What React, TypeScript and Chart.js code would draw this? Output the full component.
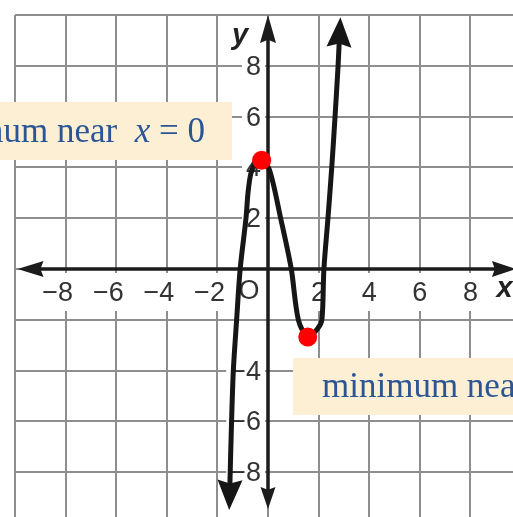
import React, { useEffect, useRef } from "react";
import { Chart, registerables } from "chart.js";

Chart.register(...registerables);

// Cubic-shaped curve, sampled along its path (x increasing)
const curveX = [-1.51, -1.44, -1.37, -1.24, -1.1, -0.87, -0.79, -0.68, -0.5, -0.25, 0.06, 0.5, 0.92, 1.2, 1.57, 1.96, 2.13, 2.21, 2.37, 2.52, 2.65, 2.77, 2.82];
const curveY = [-8.62, -6, -4, -2, 0, 2, 3, 3.75, 4.15, 4.28, 3.9, 2, 0, -2, -2.68, -2.35, -2, 0, 2, 4, 6, 8, 9.05];

// Turning points
const extremaX = [-0.25, 1.57];
const extremaY = [4.28, -2.68];

// Axis numbering
const xTickValues = [-8, -6, -4, -2, 2, 4, 6, 8];
const yTickValues = [8, 6, 4, 2, -4, -6, -8];

// Extent of the drawn axes (arrow tips)
const axisXRange = [-9.9, 9.8];
const axisYRange = [-9.45, 10];

// Callout texts: [words, variable, equation]
const maxNote = ["maximum near", "x", "= 0"];
const minNote = ["minimum near", "x", "= 2"];

const fmt = (v: number) => (v < 0 ? "\u2212" + Math.abs(v) : String(v));

function arrowHead(ctx: CanvasRenderingContext2D, tx: number, ty: number, dx: number, dy: number, len: number, half: number, color: string) {
  const bx = tx - dx * len;
  const by = ty - dy * len;
  const nx = -dy;
  const ny = dx;
  ctx.beginPath();
  ctx.moveTo(tx, ty);
  ctx.lineTo(bx + nx * half, by + ny * half);
  ctx.lineTo(bx + dx * len * 0.12, by + dy * len * 0.12);
  ctx.lineTo(bx - nx * half, by - ny * half);
  ctx.closePath();
  ctx.fillStyle = color;
  ctx.fill();
}

const tickFont = '27px "Liberation Sans", Arial, sans-serif';
const noteFont = '35px "Liberation Serif", "Times New Roman", serif';
const noteFontItalic = 'italic 35px "Liberation Serif", "Times New Roman", serif';
const noteBg = "#fcefd4";
const noteColor = "#2c5595";
const axisColor = "#1c1c1c";
const labelColor = "#333333";

const decorPlugin = {
  id: "graphDecor",
  beforeDatasetsDraw(chart: any) {
    const ctx: CanvasRenderingContext2D = chart.ctx;
    const xs = chart.scales.x;
    const ys = chart.scales.y;
    const x0 = xs.getPixelForValue(0);
    const y0 = ys.getPixelForValue(0);
    ctx.save();
    ctx.font = tickFont;
    ctx.textBaseline = "middle";

    // x-axis numbers (digit centred on its grid line)
    for (const v of xTickValues) {
      const px = xs.getPixelForValue(v);
      const dw = ctx.measureText(String(Math.abs(v))).width;
      const label = fmt(v);
      const w = ctx.measureText(label).width;
      const right = px + dw / 2;
      ctx.fillStyle = "#ffffff";
      ctx.fillRect(right - w - 3, y0 + 4, w + 6, 38);
      ctx.fillStyle = labelColor;
      ctx.textAlign = "right";
      ctx.fillText(label, right, y0 + 25);
    }

    // y-axis numbers, left of the axis
    for (const v of yTickValues) {
      const py = ys.getPixelForValue(v);
      const label = fmt(v);
      const w = ctx.measureText(label).width;
      const right = x0 - 7;
      ctx.fillStyle = "#ffffff";
      ctx.fillRect(right - w - 4, py - 12, w + 8, 25);
      ctx.fillStyle = labelColor;
      ctx.textAlign = "right";
      ctx.fillText(label, right, py + 1.5);
    }

    // origin
    ctx.fillStyle = "#ffffff";
    ctx.fillRect(x0 - 30, y0 + 4, 26, 38);
    ctx.fillStyle = labelColor;
    ctx.textAlign = "center";
    ctx.fillText("O", x0 - 19, y0 + 23);

    // axis letters
    ctx.font = 'italic bold 29px "Liberation Sans", Arial, sans-serif';
    ctx.textBaseline = "alphabetic";
    ctx.fillStyle = "#222222";
    ctx.fillText("x", xs.getPixelForValue(9.35), y0 + 28);
    ctx.fillText("y", x0 - 28, ys.getPixelForValue(8.85));

    // axes with arrowheads
    const xl = xs.getPixelForValue(axisXRange[0]);
    const xr = xs.getPixelForValue(axisXRange[1]);
    const yt = ys.getPixelForValue(axisYRange[1]);
    const yb = ys.getPixelForValue(axisYRange[0]);
    ctx.strokeStyle = axisColor;
    ctx.lineWidth = 3.5;
    ctx.beginPath();
    ctx.moveTo(xl + 12, y0);
    ctx.lineTo(xr - 12, y0);
    ctx.moveTo(x0, yt + 12);
    ctx.lineTo(x0, yb - 12);
    ctx.stroke();
    arrowHead(ctx, xl, y0, -1, 0, 26, 8, axisColor);
    arrowHead(ctx, xr, y0, 1, 0, 24, 8, axisColor);
    arrowHead(ctx, x0, yt, 0, -1, 28, 8, axisColor);
    arrowHead(ctx, x0, yb, 0, 1, 22, 7.5, axisColor);
    ctx.restore();
  },
  afterDatasetsDraw(chart: any) {
    const ctx: CanvasRenderingContext2D = chart.ctx;
    const meta = chart.getDatasetMeta(1);
    const pts = meta.data;
    if (!pts || pts.length < 2) return;
    ctx.save();
    const ends = [
      [pts[0], pts[1]],
      [pts[pts.length - 1], pts[pts.length - 2]],
    ];
    for (const [e, p] of ends) {
      let dx = e.x - p.x;
      let dy = e.y - p.y;
      const d = Math.hypot(dx, dy) || 1;
      dx /= d;
      dy /= d;
      const tipX = e.x + dx * 22;
      const tipY = e.y + dy * 22;
      arrowHead(ctx, tipX, tipY, dx, dy, 30, 12.5, "#161616");
    }
    ctx.restore();
  },
  afterDraw(chart: any) {
    const ctx: CanvasRenderingContext2D = chart.ctx;
    ctx.save();
    ctx.textBaseline = "alphabetic";
    ctx.textAlign = "left";

    // callout for the maximum (right-aligned, runs off the left edge)
    ctx.fillStyle = noteBg;
    ctx.fillRect(0, 102, 232, 58);
    ctx.font = noteFont;
    const sp = ctx.measureText(" ").width;
    let right = 205;
    ctx.fillStyle = noteColor;
    ctx.textAlign = "right";
    ctx.fillText(maxNote[2], right, 142);
    right -= ctx.measureText(maxNote[2]).width + sp;
    ctx.font = noteFontItalic;
    ctx.fillText(maxNote[1], right, 142);
    right -= ctx.measureText(maxNote[1]).width + sp * 2;
    ctx.font = noteFont;
    ctx.fillText(maxNote[0], right, 142);

    // callout for the minimum (runs off the right edge)
    ctx.fillStyle = noteBg;
    ctx.fillRect(293, 358, 260, 57);
    ctx.fillStyle = noteColor;
    ctx.textAlign = "left";
    let left = 322;
    ctx.font = noteFont;
    ctx.fillText(minNote[0], left, 397);
    left += ctx.measureText(minNote[0]).width + sp * 2;
    ctx.font = noteFontItalic;
    ctx.fillText(minNote[1], left, 397);
    left += ctx.measureText(minNote[1]).width + sp;
    ctx.font = noteFont;
    ctx.fillText(minNote[2], left, 397);
    ctx.restore();
  },
};

export default function App() {
  const canvasRef = useRef<HTMLCanvasElement | null>(null);

  useEffect(() => {
    const canvas = canvasRef.current;
    if (!canvas) return;
    const curve = curveX.map((x, i) => ({ x, y: curveY[i] }));
    const extrema = extremaX.map((x, i) => ({ x, y: extremaY[i] }));
    const chart = new Chart(canvas, {
      type: "scatter",
      data: {
        datasets: [
          {
            label: "turning points",
            data: extrema,
            pointRadius: 9.5,
            pointHoverRadius: 9.5,
            pointBackgroundColor: "#ff0000",
            pointBorderWidth: 0,
            showLine: false,
          },
          {
            label: "curve",
            data: curve,
            showLine: true,
            borderColor: "#161616",
            borderWidth: 5,
            pointRadius: 0,
            pointHoverRadius: 0,
            tension: 0.3,
            borderJoinStyle: "round",
            fill: false,
          },
        ],
      },
      options: {
        animation: false,
        responsive: false,
        maintainAspectRatio: false,
        devicePixelRatio: 1,
        layout: { padding: { left: 15, top: 15, right: 19, bottom: 17 } },
        plugins: { legend: { display: false }, tooltip: { enabled: false } },
        events: [],
        scales: {
          x: {
            type: "linear",
            min: -10,
            max: 10,
            ticks: { stepSize: 2, display: false },
            grid: { color: "#8e8e8e", lineWidth: 2, drawTicks: false },
            border: { display: false },
            afterFit: (s: any) => {
              s.height = 0;
            },
          },
          y: {
            type: "linear",
            min: -10,
            max: 10,
            ticks: { stepSize: 2, display: false },
            grid: { color: "#8e8e8e", lineWidth: 2, drawTicks: false },
            border: { display: false },
            afterFit: (s: any) => {
              s.width = 0;
            },
          },
        },
      },
      plugins: [decorPlugin],
    } as any);
    return () => chart.destroy();
  }, []);

  return (
    <div
      style={{
        position: "fixed",
        left: 0,
        top: 0,
        width: 513,
        height: 517,
        overflow: "hidden",
        background: "#ffffff",
      }}
    >
      <canvas ref={canvasRef} width={540} height={540} style={{ display: "block", width: 540, height: 540 }} />
    </div>
  );
}
